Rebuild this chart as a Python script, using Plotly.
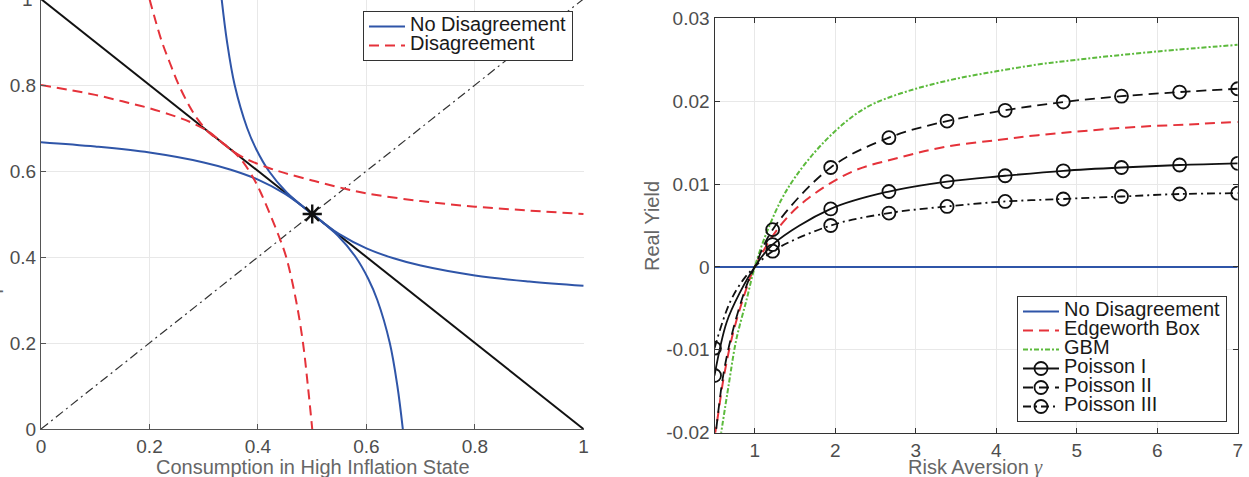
import plotly.graph_objects as go

# ---------------- Left panel data (Edgeworth box) ----------------
budget_x = [0, 1]
budget_y = [1, 0]
diag_x = [0, 1]
diag_y = [0, 1]
star_x = [0.5]
star_y = [0.5]

# No disagreement indifference curve (flat one)
nd_x = [0, 0.1, 0.2, 0.3, 0.35, 0.4, 0.45, 0.475, 0.5, 0.525, 0.55, 0.6, 0.65, 0.7, 0.8, 0.9, 1.0]
nd_y = [0.667, 0.657, 0.643, 0.620, 0.603, 0.580, 0.547, 0.5245, 0.5, 0.4755, 0.453, 0.420, 0.397, 0.380,
        0.357, 0.343, 0.333]
# No disagreement steep curve (same curve with coordinates swapped)
nd2_x = nd_y
nd2_y = nd_x

# Disagreement curves
d_x = [0, 0.05, 0.1, 0.15, 0.2, 0.25, 0.28, 0.31, 0.333, 0.355, 0.38, 0.42, 0.45, 0.5, 0.55, 0.6, 0.7, 0.8, 0.9, 1.0]
d_y = [0.800, 0.789, 0.777, 0.762, 0.746, 0.726, 0.711, 0.691, 0.667, 0.645, 0.627, 0.607, 0.595, 0.578, 0.562,
       0.548, 0.530, 0.517, 0.508, 0.500]
d2_x = [0.200, 0.211, 0.223, 0.238, 0.254, 0.274, 0.289, 0.309, 0.333, 0.355, 0.373, 0.393, 0.405, 0.422, 0.438,
        0.452, 0.470, 0.483, 0.492, 0.500]
d2_y = [1.0, 0.95, 0.9, 0.85, 0.8, 0.75, 0.72, 0.69, 0.667, 0.645, 0.62, 0.58, 0.55, 0.5, 0.45, 0.4, 0.3, 0.2, 0.1, 0.0]

# ---------------- Right panel data (real yield) ----------------
gamma_marks = [0.5, 1.222, 1.944, 2.667, 3.389, 4.111, 4.833, 5.556, 6.278, 7.0]

nodis_x = [0.5, 7.0]
nodis_y = [0.0, 0.0]

edge_x = [0.5, 0.53, 0.61, 0.73, 0.9, 1.0, 1.31, 1.64, 2.21, 2.8, 3.37, 4.0, 4.52, 5.2, 5.75, 6.4, 7.0]
edge_y = [-0.0205, -0.0188, -0.0136, -0.0080, -0.0025, 0.0, 0.0049, 0.0081, 0.0115, 0.0132, 0.0145,
          0.0153, 0.0159, 0.0165, 0.0169, 0.0172, 0.0175]

gbm_x = [0.575, 0.68, 0.77, 0.9, 1.0, 1.15, 1.33, 1.5, 1.75, 2.0, 2.25, 2.5, 3.0, 3.5, 4.0, 4.5, 5.0, 6.0, 7.0]
gbm_y = [-0.0205, -0.0140, -0.0088, -0.0039, 0.0, 0.0042, 0.0081, 0.0108, 0.0139, 0.0164, 0.0184, 0.0198,
         0.0215, 0.0227, 0.0236, 0.0244, 0.0250, 0.0260, 0.0268]

p1_x = [0.5, 0.65, 0.815, 1.0, 1.222, 1.944, 2.667, 3.389, 4.111, 4.833, 5.556, 6.278, 7.0]
p1_y = [-0.0131, -0.0067, -0.0031, 0.0, 0.0027, 0.0070, 0.0091, 0.0103, 0.0110, 0.0116, 0.0120, 0.0123, 0.0125]

p2_x = [0.5, 0.61, 0.73, 0.9, 1.0, 1.222, 1.944, 2.667, 3.389, 4.111, 4.833, 5.556, 6.278, 7.0]
p2_y = [-0.0215, -0.0130, -0.0076, -0.0022, 0.0, 0.0045, 0.0120, 0.0156, 0.0176, 0.0189, 0.0199, 0.0206,
        0.0211, 0.0215]

p3_x = [0.5, 0.69, 0.86, 1.0, 1.222, 1.944, 2.667, 3.389, 4.111, 4.833, 5.556, 6.278, 7.0]
p3_y = [-0.0098, -0.0043, -0.0015, 0.0, 0.0019, 0.0050, 0.0065, 0.0073, 0.0079, 0.0082, 0.0085, 0.0088, 0.0089]

left_ticks = [0, 0.2, 0.4, 0.6, 0.8, 1]
left_ticktext = ["0", "0.2", "0.4", "0.6", "0.8", "1"]
right_xticks = [1, 2, 3, 4, 5, 6, 7]
right_yticks = [-0.02, -0.01, 0, 0.01, 0.02, 0.03]
right_yticktext = ["-0.02", "-0.01", "0", "0.01", "0.02", "0.03"]

# ---------------- Styling ----------------
W, H = 1249, 477
FONT = "Liberation Sans, Arial, Helvetica, sans-serif"
BLUE = "#2f55a8"
RED = "#e5323a"
GREEN = "#5cba3c"
BLACK = "#111111"
TICKC = "#4d4d4d"
TITLEC = "#666666"
GRID = "#e8e8e8"
DASH = "10px,6px"
DASHDOT = "8px,4px,2px,4px"


def lg(name):
    return '<span style="font-size:20px">' + name + '</span>'


fig = go.Figure()

# ---- left panel ----
fig.add_trace(go.Scatter(x=diag_x, y=diag_y, mode="lines", showlegend=False,
                         line=dict(color="#333333", width=1.2, dash="9px,4px,2px,4px"),
                         xaxis="x", yaxis="y"))
fig.add_trace(go.Scatter(x=budget_x, y=budget_y, mode="lines", showlegend=False,
                         line=dict(color=BLACK, width=2), xaxis="x", yaxis="y"))
fig.add_trace(go.Scatter(x=nd_x, y=nd_y, mode="lines", name=lg("No Disagreement"),
                         line=dict(color=BLUE, width=2, shape="spline"), legend="legend",
                         xaxis="x", yaxis="y"))
fig.add_trace(go.Scatter(x=nd2_x, y=nd2_y, mode="lines", showlegend=False,
                         line=dict(color=BLUE, width=2, shape="spline"), xaxis="x", yaxis="y"))
fig.add_trace(go.Scatter(x=d_x, y=d_y, mode="lines", name=lg("Disagreement"),
                         line=dict(color=RED, width=2, dash=DASH, shape="spline"), legend="legend",
                         xaxis="x", yaxis="y"))
fig.add_trace(go.Scatter(x=d2_x, y=d2_y, mode="lines", showlegend=False,
                         line=dict(color=RED, width=2, dash=DASH, shape="spline"), xaxis="x", yaxis="y"))
fig.add_trace(go.Scatter(x=star_x, y=star_y, mode="markers", showlegend=False,
                         marker=dict(symbol="asterisk-open", size=16, color=BLACK,
                                     line=dict(color=BLACK, width=2.4)),
                         xaxis="x", yaxis="y"))

# ---- right panel ----
fig.add_trace(go.Scatter(x=nodis_x, y=nodis_y, mode="lines", name=lg("No Disagreement"),
                         line=dict(color=BLUE, width=2), legend="legend2", xaxis="x2", yaxis="y2"))
fig.add_trace(go.Scatter(x=edge_x, y=edge_y, mode="lines", name=lg("Edgeworth Box"),
                         line=dict(color=RED, width=2, dash=DASH, shape="spline"),
                         legend="legend2", xaxis="x2", yaxis="y2"))
fig.add_trace(go.Scatter(x=gbm_x, y=gbm_y, mode="lines", name=lg("GBM"),
                         line=dict(color=GREEN, width=2, dash="5px,2px,2px,2px", shape="spline"),
                         legend="legend2", xaxis="x2", yaxis="y2"))
for xs, ys, nm, dsh in [(p1_x, p1_y, "Poisson I", "solid"),
                        (p2_x, p2_y, "Poisson II", DASH),
                        (p3_x, p3_y, "Poisson III", DASHDOT)]:
    # smooth line
    fig.add_trace(go.Scatter(x=xs, y=ys, mode="lines", showlegend=False,
                             line=dict(color=BLACK, width=1.8, dash=dsh, shape="spline"),
                             xaxis="x2", yaxis="y2"))
    # circle markers at the marked risk-aversion levels
    mx = [x for x in xs if x in gamma_marks]
    my = [y for x, y in zip(xs, ys) if x in gamma_marks]
    fig.add_trace(go.Scatter(x=mx, y=my, mode="markers", showlegend=False,
                             marker=dict(symbol="circle-open", size=13, color=BLACK,
                                         line=dict(color=BLACK, width=1.8)),
                             xaxis="x2", yaxis="y2"))
    # legend entry
    fig.add_trace(go.Scatter(x=[None], y=[None], mode="lines+markers", name=lg(nm),
                             line=dict(color=BLACK, width=1.8, dash=dsh),
                             marker=dict(symbol="circle-open", size=13, color=BLACK,
                                         line=dict(color=BLACK, width=1.8)),
                             legend="legend2", xaxis="x2", yaxis="y2"))

tickfont = dict(family=FONT, size=19, color=TICKC)
titlefont = dict(family=FONT, size=20, color=TITLEC)

fig.update_layout(
    width=W, height=H,
    margin=dict(l=0, r=0, t=0, b=0, autoexpand=False),
    paper_bgcolor="white", plot_bgcolor="white",
    font=dict(family=FONT, size=19, color=TICKC),
    xaxis=dict(domain=[41 / W, 584 / W], range=[0, 1.001], tickvals=left_ticks, ticktext=left_ticktext,
               showgrid=True, gridcolor=GRID, gridwidth=1, zeroline=False, automargin=False,
               showline=True, linecolor="#555555", linewidth=1.3, ticks="inside", ticklen=5,
               tickcolor="#555555", tickfont=tickfont, anchor="y"),
    yaxis=dict(domain=[48 / H, 1], range=[0, 1 - 1 / 430], tickvals=left_ticks, ticktext=left_ticktext,
               showgrid=True, gridcolor=GRID, gridwidth=1, zeroline=False, automargin=False,
               showline=True, linecolor="#555555", linewidth=1.3, ticks="inside", ticklen=5,
               tickcolor="#555555", tickfont=tickfont, anchor="x"),
    xaxis2=dict(domain=[714.5 / W, 1237.7 / W], range=[0.5, 7], tickvals=right_xticks,
                showgrid=True, gridcolor=GRID, gridwidth=1, zeroline=False, automargin=False,
                showline=True, mirror="ticks", linecolor="#333333", linewidth=1.3, ticks="inside",
                ticklen=5, tickcolor="#333333", tickfont=tickfont, anchor="y2"),
    yaxis2=dict(domain=[(H - 432.7) / H, (H - 18.3) / H], range=[-0.02, 0.03], tickvals=right_yticks,
                ticktext=right_yticktext,
                showgrid=True, gridcolor=GRID, gridwidth=1, zeroline=False, automargin=False,
                showline=True, mirror="ticks", linecolor="#333333", linewidth=1.3, ticks="inside",
                ticklen=5, tickcolor="#333333", tickfont=tickfont, anchor="x2"),
    legend=dict(x=573 / W, y=1 - 11 / H, xanchor="right", yanchor="top",
                bgcolor="white", bordercolor="#333333", borderwidth=1,
                font=dict(family=FONT, size=12, color="#1a1a1a"), itemwidth=36,
                tracegroupgap=0),
    legend2=dict(x=1227 / W, y=1 - 422 / H, xanchor="right", yanchor="bottom",
                 bgcolor="white", bordercolor="#333333", borderwidth=1,
                 font=dict(family=FONT, size=12, color="#1a1a1a"), itemwidth=36,
                 tracegroupgap=0),
    annotations=[
        dict(text="Consumption in High Inflation State", xref="paper", yref="paper",
             x=312.5 / W, y=1 - 467 / H, xanchor="center", yanchor="middle", showarrow=False,
             font=titlefont),
        dict(text="Consumption in Low Inflation State", xref="paper", yref="paper",
             x=5 / W, y=1 - 214 / H, xanchor="right", yanchor="middle", showarrow=False,
             textangle=-90, font=titlefont),
        dict(text="1", xref="paper", yref="paper", x=35 / W, y=1 + 1 / H, xanchor="right",
             yanchor="middle", showarrow=False, font=tickfont),
        dict(text='Risk Aversion <span style="font-family:Liberation Serif, Times New Roman, serif"><i>γ</i></span>',
             xref="paper", yref="paper",
             x=975 / W, y=1 - 467 / H, xanchor="center", yanchor="middle", showarrow=False,
             font=titlefont),
        dict(text="Real Yield", xref="paper", yref="paper",
             x=652 / W, y=1 - 226 / H, xanchor="center", yanchor="middle", showarrow=False,
             textangle=-90, font=titlefont),
    ],
)

fig.write_html("out.html")
